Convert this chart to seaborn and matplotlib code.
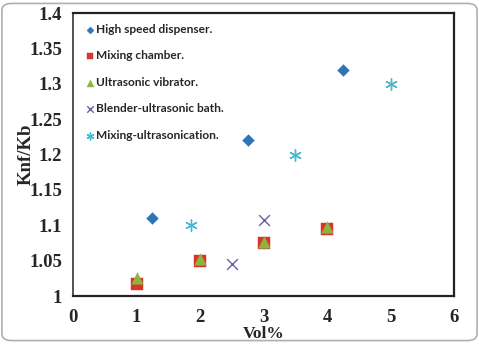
import pandas as pd
import matplotlib.pyplot as plt
import seaborn as sns
from matplotlib.patches import FancyBboxPatch

# Données
methods = ["High speed dispenser.", "Mixing chamber.", "Ultrasonic vibrator.",
           "Blender-ultrasonic bath.", "Mixing-ultrasonication."]
hs_x = [1.25, 2.75, 4.25]
hs_y = [1.11, 1.22, 1.32]
mc_x = [1, 2, 3, 4]
mc_y = [1.017, 1.05, 1.075, 1.095]
uv_x = [1, 2, 3, 4]
uv_y = [1.025, 1.052, 1.077, 1.097]
bu_x = [2.5, 3]
bu_y = [1.045, 1.107]
mu_x = [1.85, 3.5, 5]
mu_y = [1.10, 1.20, 1.30]

xs = [hs_x, mc_x, uv_x, bu_x, mu_x]
ys = [hs_y, mc_y, uv_y, bu_y, mu_y]
rows = []
for m, x, y in zip(methods, xs, ys):
    for a, b in zip(x, y):
        rows.append({"Vol%": a, "Knf/Kb": b, "method": m})
df = pd.DataFrame(rows)

colors = ["#2e75b6", "#d9342b", "#8db43e", "#6f5ba6", "#4bb8c9"]
markers = ["D", "s", "^", "x", (6, 2, 0)]
sizes = [36, 70, 70, 60, 70]

sns.set_style("white")
fig = plt.figure(figsize=(4.79, 3.44), dpi=100)
fig.patches.append(FancyBboxPatch((0.004, 0.01), 0.992, 0.98, boxstyle="round,pad=0,rounding_size=0.02",
                                  transform=fig.transFigure, fill=False, edgecolor="#b0b0b0", lw=1.2))
ax = fig.add_axes([0.1524, 0.1395, 0.7956, 0.8225])

for i, m in enumerate(methods):
    sub = df[df["method"] == m]
    sns.scatterplot(data=sub, x="Vol%", y="Knf/Kb", ax=ax, color=colors[i], marker=markers[i],
                    s=sizes[i], label=m, linewidth=1.0 if i >= 3 else 0.3,
                    edgecolor=colors[i] if i < 3 else None)

ax.set_xlim(0, 6)
ax.set_ylim(1, 1.4)
ax.set_xticks(range(0, 7))
ax.set_yticks([1, 1.05, 1.1, 1.15, 1.2, 1.25, 1.3, 1.35, 1.4])
ax.set_yticklabels(["1", "1.05", "1.1", "1.15", "1.2", "1.25", "1.3", "1.35", "1.4"])
for s in ax.spines.values():
    s.set_color("#222222")
    s.set_linewidth(1.6)
ax.spines["left"].set_color("#444444")
ax.spines["left"].set_linewidth(1.3)
ax.tick_params(axis="both", direction="out", length=4, width=0.8, color="#555555",
               labelsize=13.5, pad=4)
ax.tick_params(axis="x", pad=5)
for lab in ax.get_xticklabels() + ax.get_yticklabels():
    lab.set_fontfamily("Liberation Serif")
    lab.set_fontweight("bold")
ax.set_xlabel("Vol%", fontfamily="Liberation Serif", fontweight="bold", fontsize=12.5, labelpad=0)
ax.set_ylabel("Knf/Kb", fontfamily="Liberation Serif", fontweight="bold", fontsize=13.5, labelpad=-4)

leg = ax.legend(loc="upper left", frameon=False, prop={"family": "Lato", "weight": "bold", "size": 8.6},
                labelspacing=1.3, handletextpad=0.05, borderaxespad=0.5, handlelength=1.0,
                markerscale=0.6)

plt.savefig("out.png", dpi=100)
